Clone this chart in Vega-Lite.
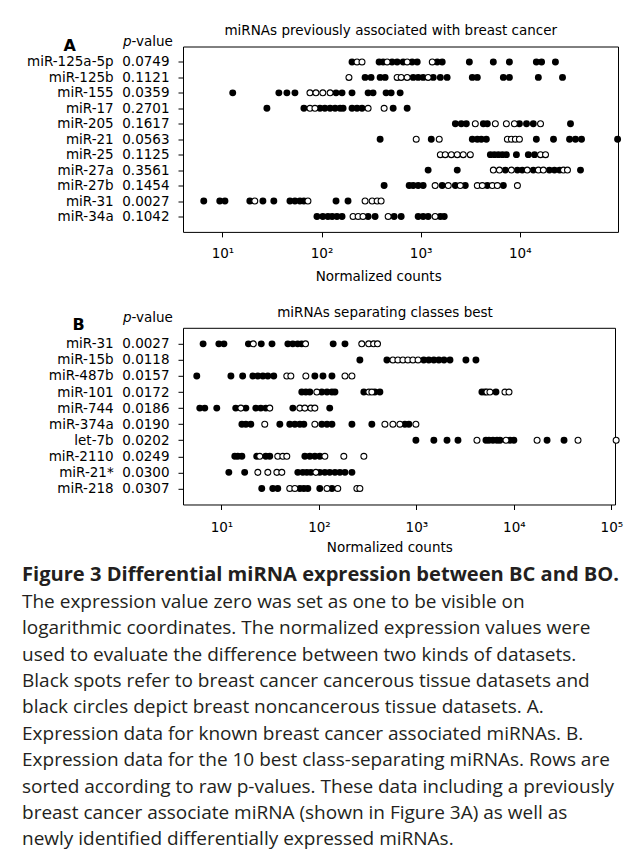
{
"$schema": "https://vega.github.io/schema/vega-lite/v6.json",
"background": "white",
"padding": {"left": 22, "top": 23.5, "right": 0, "bottom": 10},
"bounds": "flush",
"spacing": 95.3,
"datasets": {
"pvalues": [
{"mirna":"miR-125a-5p","p":"0.0749"},{"mirna":"miR-125b","p":"0.1121"},{"mirna":"miR-155","p":"0.0359"},{"mirna":"miR-17","p":"0.2701"},{"mirna":"miR-205","p":"0.1617"},{"mirna":"miR-21","p":"0.0563"},{"mirna":"miR-25","p":"0.1125"},{"mirna":"miR-27a","p":"0.3561"},{"mirna":"miR-27b","p":"0.1454"},{"mirna":"miR-31","p":"0.0027"},{"mirna":"miR-34a","p":"0.1042"},{"mirna":"miR-15b","p":"0.0118"},{"mirna":"miR-487b","p":"0.0157"},{"mirna":"miR-101","p":"0.0172"},{"mirna":"miR-744","p":"0.0186"},{"mirna":"miR-374a","p":"0.0190"},{"mirna":"let-7b","p":"0.0202"},{"mirna":"miR-2110","p":"0.0249"},{"mirna":"miR-21*","p":"0.0300"},{"mirna":"miR-218","p":"0.0307"}
],
"panelA": [
{"mirna":"miR-125a-5p","tissue":"tumor","count":203},{"mirna":"miR-125a-5p","tissue":"normal","count":228},{"mirna":"miR-125a-5p","tissue":"normal","count":256},{"mirna":"miR-125a-5p","tissue":"tumor","count":381},{"mirna":"miR-125a-5p","tissue":"tumor","count":418},{"mirna":"miR-125a-5p","tissue":"normal","count":459},{"mirna":"miR-125a-5p","tissue":"tumor","count":515},{"mirna":"miR-125a-5p","tissue":"tumor","count":579},{"mirna":"miR-125a-5p","tissue":"tumor","count":666},{"mirna":"miR-125a-5p","tissue":"normal","count":731},{"mirna":"miR-125a-5p","tissue":"tumor","count":821},{"mirna":"miR-125a-5p","tissue":"tumor","count":923},{"mirna":"miR-125a-5p","tissue":"normal","count":1310},{"mirna":"miR-125a-5p","tissue":"tumor","count":1470},{"mirna":"miR-125a-5p","tissue":"tumor","count":1650},{"mirna":"miR-125a-5p","tissue":"tumor","count":3100},{"mirna":"miR-125a-5p","tissue":"tumor","count":5410},{"mirna":"miR-125a-5p","tissue":"tumor","count":7860},{"mirna":"miR-125a-5p","tissue":"tumor","count":14700},{"mirna":"miR-125a-5p","tissue":"tumor","count":16600},{"mirna":"miR-125a-5p","tissue":"tumor","count":22900},
{"mirna":"miR-125b","tissue":"normal","count":189},{"mirna":"miR-125b","tissue":"tumor","count":275},{"mirna":"miR-125b","tissue":"tumor","count":316},{"mirna":"miR-125b","tissue":"tumor","count":390},{"mirna":"miR-125b","tissue":"tumor","count":438},{"mirna":"miR-125b","tissue":"normal","count":579},{"mirna":"miR-125b","tissue":"normal","count":636},{"mirna":"miR-125b","tissue":"normal","count":731},{"mirna":"miR-125b","tissue":"tumor","count":841},{"mirna":"miR-125b","tissue":"tumor","count":944},{"mirna":"miR-125b","tissue":"tumor","count":1060},{"mirna":"miR-125b","tissue":"normal","count":1190},{"mirna":"miR-125b","tissue":"tumor","count":1340},{"mirna":"miR-125b","tissue":"tumor","count":1580},{"mirna":"miR-125b","tissue":"tumor","count":1850},{"mirna":"miR-125b","tissue":"tumor","count":3320},{"mirna":"miR-125b","tissue":"tumor","count":3730},{"mirna":"miR-125b","tissue":"tumor","count":6830},{"mirna":"miR-125b","tissue":"tumor","count":7860},{"mirna":"miR-125b","tissue":"tumor","count":15400},{"mirna":"miR-125b","tissue":"tumor","count":27000},
{"mirna":"miR-155","tissue":"tumor","count":12.7},{"mirna":"miR-155","tissue":"tumor","count":37.1},{"mirna":"miR-155","tissue":"tumor","count":44.7},{"mirna":"miR-155","tissue":"tumor","count":53.9},{"mirna":"miR-155","tissue":"normal","count":76.4},{"mirna":"miR-155","tissue":"normal","count":87.8},{"mirna":"miR-155","tissue":"normal","count":103},{"mirna":"miR-155","tissue":"normal","count":122},{"mirna":"miR-155","tissue":"tumor","count":140},{"mirna":"miR-155","tissue":"tumor","count":161},{"mirna":"miR-155","tissue":"tumor","count":203},{"mirna":"miR-155","tissue":"tumor","count":295},{"mirna":"miR-155","tissue":"tumor","count":331},{"mirna":"miR-155","tissue":"tumor","count":448},{"mirna":"miR-155","tissue":"tumor","count":504},{"mirna":"miR-155","tissue":"tumor","count":621},
{"mirna":"miR-17","tissue":"tumor","count":28.1},{"mirna":"miR-17","tissue":"tumor","count":66.4},{"mirna":"miR-17","tissue":"normal","count":76.4},{"mirna":"miR-17","tissue":"normal","count":85.8},{"mirna":"miR-17","tissue":"tumor","count":96.4},{"mirna":"miR-17","tissue":"tumor","count":108},{"mirna":"miR-17","tissue":"tumor","count":122},{"mirna":"miR-17","tissue":"tumor","count":137},{"mirna":"miR-17","tissue":"tumor","count":154},{"mirna":"miR-17","tissue":"tumor","count":165},{"mirna":"miR-17","tissue":"tumor","count":203},{"mirna":"miR-17","tissue":"tumor","count":228},{"mirna":"miR-17","tissue":"tumor","count":256},{"mirna":"miR-17","tissue":"normal","count":295},{"mirna":"miR-17","tissue":"normal","count":428},{"mirna":"miR-17","tissue":"tumor","count":528},{"mirna":"miR-17","tissue":"tumor","count":731},
{"mirna":"miR-205","tissue":"tumor","count":2240},{"mirna":"miR-205","tissue":"tumor","count":2570},{"mirna":"miR-205","tissue":"tumor","count":2890},{"mirna":"miR-205","tissue":"normal","count":3560},{"mirna":"miR-205","tissue":"tumor","count":4290},{"mirna":"miR-205","tissue":"tumor","count":4710},{"mirna":"miR-205","tissue":"normal","count":5670},{"mirna":"miR-205","tissue":"normal","count":7330},{"mirna":"miR-205","tissue":"normal","count":8830},{"mirna":"miR-205","tissue":"tumor","count":9920},{"mirna":"miR-205","tissue":"tumor","count":11700},{"mirna":"miR-205","tissue":"tumor","count":13700},{"mirna":"miR-205","tissue":"normal","count":16200},{"mirna":"miR-205","tissue":"tumor","count":32500},
{"mirna":"miR-21","tissue":"tumor","count":390},{"mirna":"miR-21","tissue":"normal","count":902},{"mirna":"miR-21","tissue":"tumor","count":1280},{"mirna":"miR-21","tissue":"normal","count":1540},{"mirna":"miR-21","tissue":"tumor","count":3320},{"mirna":"miR-21","tissue":"tumor","count":3730},{"mirna":"miR-21","tissue":"tumor","count":4090},{"mirna":"miR-21","tissue":"tumor","count":4600},{"mirna":"miR-21","tissue":"normal","count":7500},{"mirna":"miR-21","tissue":"normal","count":8230},{"mirna":"miR-21","tissue":"normal","count":9030},{"mirna":"miR-21","tissue":"normal","count":9920},{"mirna":"miR-21","tissue":"tumor","count":14700},{"mirna":"miR-21","tissue":"tumor","count":21900},{"mirna":"miR-21","tissue":"tumor","count":31800},{"mirna":"miR-21","tissue":"tumor","count":36500},{"mirna":"miR-21","tissue":"tumor","count":42000},{"mirna":"miR-21","tissue":"tumor","count":97100},
{"mirna":"miR-25","tissue":"normal","count":1580},{"mirna":"miR-25","tissue":"normal","count":1770},{"mirna":"miR-25","tissue":"normal","count":2040},{"mirna":"miR-25","tissue":"normal","count":2340},{"mirna":"miR-25","tissue":"normal","count":2690},{"mirna":"miR-25","tissue":"normal","count":3170},{"mirna":"miR-25","tissue":"tumor","count":5050},{"mirna":"miR-25","tissue":"tumor","count":5540},{"mirna":"miR-25","tissue":"tumor","count":6080},{"mirna":"miR-25","tissue":"tumor","count":6680},{"mirna":"miR-25","tissue":"tumor","count":7330},{"mirna":"miR-25","tissue":"tumor","count":9250},{"mirna":"miR-25","tissue":"tumor","count":12200},{"mirna":"miR-25","tissue":"tumor","count":14100},{"mirna":"miR-25","tissue":"normal","count":16200},{"mirna":"miR-25","tissue":"normal","count":18200},
{"mirna":"miR-27a","tissue":"tumor","count":1190},{"mirna":"miR-27a","tissue":"tumor","count":2340},{"mirna":"miR-27a","tissue":"normal","count":5410},{"mirna":"miR-27a","tissue":"normal","count":6230},{"mirna":"miR-27a","tissue":"tumor","count":7160},{"mirna":"miR-27a","tissue":"normal","count":8230},{"mirna":"miR-27a","tissue":"tumor","count":9470},{"mirna":"miR-27a","tissue":"tumor","count":10600},{"mirna":"miR-27a","tissue":"normal","count":11900},{"mirna":"miR-27a","tissue":"tumor","count":13700},{"mirna":"miR-27a","tissue":"normal","count":15400},{"mirna":"miR-27a","tissue":"normal","count":17300},{"mirna":"miR-27a","tissue":"tumor","count":19900},{"mirna":"miR-27a","tissue":"tumor","count":22400},{"mirna":"miR-27a","tissue":"tumor","count":25200},{"mirna":"miR-27a","tissue":"normal","count":27600},{"mirna":"miR-27a","tissue":"normal","count":30300},{"mirna":"miR-27a","tissue":"tumor","count":41000},
{"mirna":"miR-27b","tissue":"tumor","count":428},{"mirna":"miR-27b","tissue":"tumor","count":766},{"mirna":"miR-27b","tissue":"tumor","count":841},{"mirna":"miR-27b","tissue":"tumor","count":944},{"mirna":"miR-27b","tissue":"tumor","count":1060},{"mirna":"miR-27b","tissue":"normal","count":1400},{"mirna":"miR-27b","tissue":"tumor","count":1650},{"mirna":"miR-27b","tissue":"normal","count":1900},{"mirna":"miR-27b","tissue":"tumor","count":2240},{"mirna":"miR-27b","tissue":"normal","count":2510},{"mirna":"miR-27b","tissue":"tumor","count":2820},{"mirna":"miR-27b","tissue":"normal","count":3730},{"mirna":"miR-27b","tissue":"normal","count":4190},{"mirna":"miR-27b","tissue":"tumor","count":4710},{"mirna":"miR-27b","tissue":"normal","count":5290},{"mirna":"miR-27b","tissue":"normal","count":5940},{"mirna":"miR-27b","tissue":"tumor","count":6830},{"mirna":"miR-27b","tissue":"normal","count":9470},
{"mirna":"miR-31","tissue":"tumor","count":6.48},{"mirna":"miR-31","tissue":"tumor","count":9.4},{"mirna":"miR-31","tissue":"tumor","count":10.6},{"mirna":"miR-31","tissue":"tumor","count":18.9},{"mirna":"miR-31","tissue":"normal","count":21.2},{"mirna":"miR-31","tissue":"tumor","count":25.6},{"mirna":"miR-31","tissue":"tumor","count":33},{"mirna":"miR-31","tissue":"tumor","count":48},{"mirna":"miR-31","tissue":"tumor","count":53.9},{"mirna":"miR-31","tissue":"tumor","count":60.5},{"mirna":"miR-31","tissue":"tumor","count":66.4},{"mirna":"miR-31","tissue":"normal","count":72.9},{"mirna":"miR-31","tissue":"tumor","count":140},{"mirna":"miR-31","tissue":"tumor","count":185},{"mirna":"miR-31","tissue":"normal","count":275},{"mirna":"miR-31","tissue":"normal","count":324},{"mirna":"miR-31","tissue":"normal","count":364},{"mirna":"miR-31","tissue":"normal","count":399},
{"mirna":"miR-34a","tissue":"tumor","count":89.9},{"mirna":"miR-34a","tissue":"tumor","count":103},{"mirna":"miR-34a","tissue":"tumor","count":116},{"mirna":"miR-34a","tissue":"tumor","count":128},{"mirna":"miR-34a","tissue":"tumor","count":143},{"mirna":"miR-34a","tissue":"tumor","count":161},{"mirna":"miR-34a","tissue":"normal","count":208},{"mirna":"miR-34a","tissue":"normal","count":234},{"mirna":"miR-34a","tissue":"normal","count":262},{"mirna":"miR-34a","tissue":"tumor","count":295},{"mirna":"miR-34a","tissue":"tumor","count":347},{"mirna":"miR-34a","tissue":"normal","count":470},{"mirna":"miR-34a","tissue":"tumor","count":540},{"mirna":"miR-34a","tissue":"tumor","count":636},{"mirna":"miR-34a","tissue":"tumor","count":944},{"mirna":"miR-34a","tissue":"tumor","count":1060},{"mirna":"miR-34a","tissue":"tumor","count":1190},{"mirna":"miR-34a","tissue":"normal","count":1400},{"mirna":"miR-34a","tissue":"tumor","count":1580},{"mirna":"miR-34a","tissue":"tumor","count":1730}
],
"panelB": [
{"mirna":"miR-31","tissue":"tumor","count":6.48},{"mirna":"miR-31","tissue":"tumor","count":9.4},{"mirna":"miR-31","tissue":"tumor","count":10.6},{"mirna":"miR-31","tissue":"tumor","count":18.9},{"mirna":"miR-31","tissue":"normal","count":21.2},{"mirna":"miR-31","tissue":"tumor","count":25.6},{"mirna":"miR-31","tissue":"tumor","count":33},{"mirna":"miR-31","tissue":"tumor","count":48},{"mirna":"miR-31","tissue":"tumor","count":53.9},{"mirna":"miR-31","tissue":"tumor","count":60.5},{"mirna":"miR-31","tissue":"tumor","count":66.4},{"mirna":"miR-31","tissue":"normal","count":72.9},{"mirna":"miR-31","tissue":"tumor","count":140},{"mirna":"miR-31","tissue":"tumor","count":185},{"mirna":"miR-31","tissue":"normal","count":275},{"mirna":"miR-31","tissue":"normal","count":324},{"mirna":"miR-31","tissue":"normal","count":364},{"mirna":"miR-31","tissue":"normal","count":399},
{"mirna":"miR-15b","tissue":"tumor","count":263},{"mirna":"miR-15b","tissue":"tumor","count":498},{"mirna":"miR-15b","tissue":"normal","count":574},{"mirna":"miR-15b","tissue":"normal","count":646},{"mirna":"miR-15b","tissue":"normal","count":727},{"mirna":"miR-15b","tissue":"normal","count":818},{"mirna":"miR-15b","tissue":"normal","count":921},{"mirna":"miR-15b","tissue":"normal","count":1040},{"mirna":"miR-15b","tissue":"tumor","count":1190},{"mirna":"miR-15b","tissue":"tumor","count":1340},{"mirna":"miR-15b","tissue":"tumor","count":1510},{"mirna":"miR-15b","tissue":"tumor","count":1700},{"mirna":"miR-15b","tissue":"tumor","count":1920},{"mirna":"miR-15b","tissue":"tumor","count":2210},{"mirna":"miR-15b","tissue":"tumor","count":3220},{"mirna":"miR-15b","tissue":"tumor","count":4080},
{"mirna":"miR-487b","tissue":"tumor","count":5.58},{"mirna":"miR-487b","tissue":"tumor","count":12.5},{"mirna":"miR-487b","tissue":"tumor","count":16.5},{"mirna":"miR-487b","tissue":"tumor","count":21},{"mirna":"miR-487b","tissue":"tumor","count":23.6},{"mirna":"miR-487b","tissue":"tumor","count":26.6},{"mirna":"miR-487b","tissue":"tumor","count":29.9},{"mirna":"miR-487b","tissue":"tumor","count":34.4},{"mirna":"miR-487b","tissue":"normal","count":46.8},{"mirna":"miR-487b","tissue":"normal","count":51.5},{"mirna":"miR-487b","tissue":"normal","count":73.4},{"mirna":"miR-487b","tissue":"tumor","count":90.8},{"mirna":"miR-487b","tissue":"tumor","count":110},{"mirna":"miR-487b","tissue":"tumor","count":136},{"mirna":"miR-487b","tissue":"normal","count":185},{"mirna":"miR-487b","tissue":"normal","count":218},
{"mirna":"miR-101","tissue":"tumor","count":66.7},{"mirna":"miR-101","tissue":"tumor","count":73.4},{"mirna":"miR-101","tissue":"tumor","count":80.6},{"mirna":"miR-101","tissue":"normal","count":95.1},{"mirna":"miR-101","tissue":"tumor","count":107},{"mirna":"miR-101","tissue":"tumor","count":121},{"mirna":"miR-101","tissue":"tumor","count":136},{"mirna":"miR-101","tissue":"tumor","count":146},{"mirna":"miR-101","tissue":"tumor","count":289},{"mirna":"miR-101","tissue":"normal","count":325},{"mirna":"miR-101","tissue":"normal","count":349},{"mirna":"miR-101","tissue":"tumor","count":375},{"mirna":"miR-101","tissue":"tumor","count":422},{"mirna":"miR-101","tissue":"tumor","count":4700},{"mirna":"miR-101","tissue":"tumor","count":5050},{"mirna":"miR-101","tissue":"normal","count":5290},{"mirna":"miR-101","tissue":"normal","count":5680},{"mirna":"miR-101","tissue":"tumor","count":6550},{"mirna":"miR-101","tissue":"normal","count":8100},{"mirna":"miR-101","tissue":"normal","count":8910},
{"mirna":"miR-744","tissue":"tumor","count":5.99},{"mirna":"miR-744","tissue":"tumor","count":6.74},{"mirna":"miR-744","tissue":"tumor","count":8.95},{"mirna":"miR-744","tissue":"tumor","count":14},{"mirna":"miR-744","tissue":"normal","count":15.8},{"mirna":"miR-744","tissue":"tumor","count":17.8},{"mirna":"miR-744","tissue":"tumor","count":22.5},{"mirna":"miR-744","tissue":"tumor","count":25.3},{"mirna":"miR-744","tissue":"tumor","count":28.5},{"mirna":"miR-744","tissue":"normal","count":31.3},{"mirna":"miR-744","tissue":"tumor","count":54},{"mirna":"miR-744","tissue":"normal","count":63.7},{"mirna":"miR-744","tissue":"normal","count":71.7},{"mirna":"miR-744","tissue":"normal","count":82.6},{"mirna":"miR-744","tissue":"normal","count":90.8},{"mirna":"miR-744","tissue":"tumor","count":129},
{"mirna":"miR-374a","tissue":"tumor","count":16.2},{"mirna":"miR-374a","tissue":"tumor","count":17.8},{"mirna":"miR-374a","tissue":"tumor","count":20},{"mirna":"miR-374a","tissue":"normal","count":27.8},{"mirna":"miR-374a","tissue":"tumor","count":39.7},{"mirna":"miR-374a","tissue":"tumor","count":50.2},{"mirna":"miR-374a","tissue":"tumor","count":56.6},{"mirna":"miR-374a","tissue":"tumor","count":63.7},{"mirna":"miR-374a","tissue":"tumor","count":70},{"mirna":"miR-374a","tissue":"normal","count":90.8},{"mirna":"miR-374a","tissue":"tumor","count":107},{"mirna":"miR-374a","tissue":"tumor","count":121},{"mirna":"miR-374a","tissue":"tumor","count":136},{"mirna":"miR-374a","tissue":"tumor","count":218},{"mirna":"miR-374a","tissue":"tumor","count":349},{"mirna":"miR-374a","tissue":"normal","count":475},{"mirna":"miR-374a","tissue":"normal","count":574},{"mirna":"miR-374a","tissue":"normal","count":677},{"mirna":"miR-374a","tissue":"tumor","count":762},{"mirna":"miR-374a","tissue":"tumor","count":837},{"mirna":"miR-374a","tissue":"normal","count":988},
{"mirna":"let-7b","tissue":"tumor","count":988},{"mirna":"let-7b","tissue":"tumor","count":1510},{"mirna":"let-7b","tissue":"tumor","count":2060},{"mirna":"let-7b","tissue":"tumor","count":2670},{"mirna":"let-7b","tissue":"normal","count":4180},{"mirna":"let-7b","tissue":"tumor","count":5170},{"mirna":"let-7b","tissue":"tumor","count":5550},{"mirna":"let-7b","tissue":"tumor","count":6100},{"mirna":"let-7b","tissue":"tumor","count":6710},{"mirna":"let-7b","tissue":"tumor","count":7200},{"mirna":"let-7b","tissue":"normal","count":8300},{"mirna":"let-7b","tissue":"tumor","count":9120},{"mirna":"let-7b","tissue":"tumor","count":10000},{"mirna":"let-7b","tissue":"normal","count":17300},{"mirna":"let-7b","tissue":"tumor","count":21900},{"mirna":"let-7b","tissue":"tumor","count":32700},{"mirna":"let-7b","tissue":"normal","count":45500},{"mirna":"let-7b","tissue":"normal","count":112000},
{"mirna":"miR-2110","tissue":"tumor","count":13.7},{"mirna":"miR-2110","tissue":"tumor","count":14.7},{"mirna":"miR-2110","tissue":"tumor","count":16.2},{"mirna":"miR-2110","tissue":"tumor","count":23},{"mirna":"miR-2110","tissue":"normal","count":24.7},{"mirna":"miR-2110","tissue":"tumor","count":28.5},{"mirna":"miR-2110","tissue":"tumor","count":31.3},{"mirna":"miR-2110","tissue":"normal","count":37.8},{"mirna":"miR-2110","tissue":"normal","count":42.6},{"mirna":"miR-2110","tissue":"normal","count":46.8},{"mirna":"miR-2110","tissue":"tumor","count":71.7},{"mirna":"miR-2110","tissue":"tumor","count":80.6},{"mirna":"miR-2110","tissue":"tumor","count":90.8},{"mirna":"miR-2110","tissue":"tumor","count":102},{"mirna":"miR-2110","tissue":"normal","count":115},{"mirna":"miR-2110","tissue":"normal","count":180},{"mirna":"miR-2110","tissue":"normal","count":289},
{"mirna":"miR-21*","tissue":"tumor","count":11.9},{"mirna":"miR-21*","tissue":"tumor","count":17.3},{"mirna":"miR-21*","tissue":"normal","count":23.6},{"mirna":"miR-21*","tissue":"normal","count":29.9},{"mirna":"miR-21*","tissue":"normal","count":37},{"mirna":"miR-21*","tissue":"normal","count":41.6},{"mirna":"miR-21*","tissue":"tumor","count":60.7},{"mirna":"miR-21*","tissue":"tumor","count":68.3},{"mirna":"miR-21*","tissue":"tumor","count":75.1},{"mirna":"miR-21*","tissue":"tumor","count":82.6},{"mirna":"miR-21*","tissue":"normal","count":93},{"mirna":"miR-21*","tissue":"tumor","count":102},{"mirna":"miR-21*","tissue":"tumor","count":115},{"mirna":"miR-21*","tissue":"tumor","count":129},{"mirna":"miR-21*","tissue":"tumor","count":146},{"mirna":"miR-21*","tissue":"tumor","count":164},{"mirna":"miR-21*","tissue":"tumor","count":185},{"mirna":"miR-21*","tissue":"tumor","count":218},
{"mirna":"miR-218","tissue":"tumor","count":25.9},{"mirna":"miR-218","tissue":"tumor","count":33.6},{"mirna":"miR-218","tissue":"tumor","count":37.8},{"mirna":"miR-218","tissue":"normal","count":50.2},{"mirna":"miR-218","tissue":"normal","count":56.6},{"mirna":"miR-218","tissue":"tumor","count":63.7},{"mirna":"miR-218","tissue":"tumor","count":70},{"mirna":"miR-218","tissue":"tumor","count":76.9},{"mirna":"miR-218","tissue":"tumor","count":102},{"mirna":"miR-218","tissue":"normal","count":121},{"mirna":"miR-218","tissue":"tumor","count":136},{"mirna":"miR-218","tissue":"normal","count":156},{"mirna":"miR-218","tissue":"normal","count":245},{"mirna":"miR-218","tissue":"normal","count":263}
]
},
"title": {
"text": "Figure 3 Differential miRNA expression between BC and BO.",
"subtitle": [
"The expression value zero was set as one to be visible on",
"logarithmic coordinates. The normalized expression values were",
"used to evaluate the difference between two kinds of datasets.",
"Black spots refer to breast cancer cancerous tissue datasets and",
"black circles depict breast noncancerous tissue datasets. A.",
"Expression data for known breast cancer associated miRNAs. B.",
"Expression data for the 10 best class-separating miRNAs. Rows are",
"sorted according to raw p-values. These data including a previously",
"breast cancer associate miRNA (shown in Figure 3A) as well as",
"newly identified differentially expressed miRNAs."
],
"orient": "bottom", "anchor": "start", "frame": "bounds", "align": "left", "baseline": "top",
"dx": -4, "offset": 10,
"font": "Open Sans", "fontSize": 20.1, "fontWeight": "bold", "color": "#231f20",
"subtitleFont": "Open Sans", "subtitleFontSize": 19, "subtitleFontWeight": "normal", "subtitleColor": "#231f20",
"subtitleLineHeight": 26.4, "subtitlePadding": 8
},
"vconcat": [
{
"width": 435, "height": 185.4,
"data": {"name": "panelA"},
"transform": [
{"lookup": "mirna", "from": {"data": {"name": "pvalues"}, "key": "mirna", "fields": ["p"]}},
{"calculate": "datum.mirna + '\u00a0\u00a0' + datum.p", "as": "label"}
],
"title": {"text": "miRNAs previously associated with breast cancer", "anchor": "middle", "frame": "group", "dx": -9.7, "offset": -3.7, "baseline": "top", "font": "DejaVu Sans", "fontSize": 13.5, "fontWeight": "normal", "color": "black"},
"layer": [
{
"transform": [{"filter": "datum.tissue == 'tumor'"}],
"mark": {"type": "circle", "size": 48, "color": "black", "opacity": 1},
"encoding": {
"x": {"field": "count", "type": "quantitative", "scale": {"type": "log", "domain": [4, 98000], "nice": false},
"axis": {"orient": "bottom", "values": [10, 100, 1000, 10000], "labelExpr": "'10' + ['\u2070','\u00b9','\u00b2','\u00b3','\u2074','\u2075'][round(log(datum.value)/LN10)]", "labelBaseline": "middle", "labelPadding": 17, "labelFlush": false, "labelOverlap": false, "title": "Normalized counts", "titleX": 195.2, "titleY": 44.2, "titleBaseline": "middle", "titleAlign": "center"}},
"y": {"field": "label", "type": "nominal", "scale": {"type": "point", "padding": 1, "domain": ["miR-125a-5p\u00a0\u00a00.0749", "miR-125b\u00a0\u00a00.1121", "miR-155\u00a0\u00a00.0359", "miR-17\u00a0\u00a00.2701", "miR-205\u00a0\u00a00.1617", "miR-21\u00a0\u00a00.0563", "miR-25\u00a0\u00a00.1125", "miR-27a\u00a0\u00a00.3561", "miR-27b\u00a0\u00a00.1454", "miR-31\u00a0\u00a00.0027", "miR-34a\u00a0\u00a00.1042"]},
"axis": {"orient": "left", "labelPadding": 9, "title": "p", "titleFontStyle": "italic", "titleAngle": 0, "titleAlign": "left", "titleBaseline": "alphabetic", "titleX": -60.6, "titleY": -1.3}}
}
},
{
"transform": [{"filter": "datum.tissue == 'normal'"}],
"mark": {"type": "point", "shape": "circle", "size": 35, "filled": true, "fill": "white", "stroke": "black", "strokeWidth": 1.1, "opacity": 1},
"encoding": {
"x": {"field": "count", "type": "quantitative", "scale": {"type": "log", "domain": [4, 98000], "nice": false},
"axis": {"orient": "top", "labels": false, "ticks": false, "domain": false, "title": "A", "titleFontWeight": "bold", "titleFontSize": 16, "titleAlign": "center", "titleBaseline": "alphabetic", "titleX": -113.8, "titleY": 4}},
"y": {"field": "label", "type": "nominal", "scale": {"type": "point", "padding": 1, "domain": ["miR-125a-5p\u00a0\u00a00.0749", "miR-125b\u00a0\u00a00.1121", "miR-155\u00a0\u00a00.0359", "miR-17\u00a0\u00a00.2701", "miR-205\u00a0\u00a00.1617", "miR-21\u00a0\u00a00.0563", "miR-25\u00a0\u00a00.1125", "miR-27a\u00a0\u00a00.3561", "miR-27b\u00a0\u00a00.1454", "miR-31\u00a0\u00a00.0027", "miR-34a\u00a0\u00a00.1042"]},
"axis": {"orient": "left", "labels": false, "ticks": false, "domain": false, "title": "-value", "titleAngle": 0, "titleAlign": "left", "titleBaseline": "alphabetic", "titleX": -52, "titleY": -1.3}}
}
}
],
"resolve": {"axis": {"x": "independent", "y": "independent"}}
},
{
"width": 432, "height": 176.7,
"data": {"name": "panelB"},
"transform": [
{"lookup": "mirna", "from": {"data": {"name": "pvalues"}, "key": "mirna", "fields": ["p"]}},
{"calculate": "datum.mirna + '\u00a0\u00a0' + datum.p", "as": "label"}
],
"title": {"text": "miRNAs separating classes best", "anchor": "middle", "frame": "group", "dx": -14, "offset": -8.4, "baseline": "top", "font": "DejaVu Sans", "fontSize": 13.5, "fontWeight": "normal", "color": "black"},
"layer": [
{
"transform": [{"filter": "datum.tissue == 'tumor'"}],
"mark": {"type": "circle", "size": 48, "color": "black", "opacity": 1},
"encoding": {
"x": {"field": "count", "type": "quantitative", "scale": {"type": "log", "domain": [4.03, 109000], "nice": false},
"axis": {"orient": "bottom", "values": [10, 100, 1000, 10000, 100000], "labelExpr": "'10' + ['\u2070','\u00b9','\u00b2','\u00b3','\u2074','\u2075'][round(log(datum.value)/LN10)]", "labelBaseline": "middle", "labelPadding": 18, "labelFlush": false, "labelOverlap": false, "title": "Normalized counts", "titleX": 206.3, "titleY": 43.2, "titleBaseline": "middle", "titleAlign": "center"}},
"y": {"field": "label", "type": "nominal", "scale": {"type": "point", "padding": 1, "domain": ["miR-31\u00a0\u00a00.0027", "miR-15b\u00a0\u00a00.0118", "miR-487b\u00a0\u00a00.0157", "miR-101\u00a0\u00a00.0172", "miR-744\u00a0\u00a00.0186", "miR-374a\u00a0\u00a00.0190", "let-7b\u00a0\u00a00.0202", "miR-2110\u00a0\u00a00.0249", "miR-21*\u00a0\u00a00.0300", "miR-218\u00a0\u00a00.0307"]},
"axis": {"orient": "left", "labelPadding": 9, "title": "p", "titleFontStyle": "italic", "titleAngle": 0, "titleAlign": "left", "titleBaseline": "alphabetic", "titleX": -60.6, "titleY": -6}}
}
},
{
"transform": [{"filter": "datum.tissue == 'normal'"}],
"mark": {"type": "point", "shape": "circle", "size": 35, "filled": true, "fill": "white", "stroke": "black", "strokeWidth": 1.1, "opacity": 1},
"encoding": {
"x": {"field": "count", "type": "quantitative", "scale": {"type": "log", "domain": [4.03, 109000], "nice": false},
"axis": {"orient": "top", "labels": false, "ticks": false, "domain": false, "title": "B", "titleFontWeight": "bold", "titleFontSize": 16, "titleAlign": "center", "titleBaseline": "alphabetic", "titleX": -104.8, "titleY": 1.3}},
"y": {"field": "label", "type": "nominal", "scale": {"type": "point", "padding": 1, "domain": ["miR-31\u00a0\u00a00.0027", "miR-15b\u00a0\u00a00.0118", "miR-487b\u00a0\u00a00.0157", "miR-101\u00a0\u00a00.0172", "miR-744\u00a0\u00a00.0186", "miR-374a\u00a0\u00a00.0190", "let-7b\u00a0\u00a00.0202", "miR-2110\u00a0\u00a00.0249", "miR-21*\u00a0\u00a00.0300", "miR-218\u00a0\u00a00.0307"]},
"axis": {"orient": "left", "labels": false, "ticks": false, "domain": false, "title": "-value", "titleAngle": 0, "titleAlign": "left", "titleBaseline": "alphabetic", "titleX": -52, "titleY": -6}}
}
}
],
"resolve": {"axis": {"x": "independent", "y": "independent"}}
}
],
"config": {
"view": {"stroke": "black", "strokeWidth": 1},
"axis": {"domain": false, "grid": false, "tickColor": "black", "tickSize": 5, "tickWidth": 1, "labelColor": "black", "titleColor": "black", "labelFont": "DejaVu Sans", "titleFont": "DejaVu Sans", "labelFontSize": 13.5, "titleFontSize": 13.5, "titleFontWeight": "normal"},
"circle": {"opacity": 1},
"point": {"opacity": 1}
}
}
